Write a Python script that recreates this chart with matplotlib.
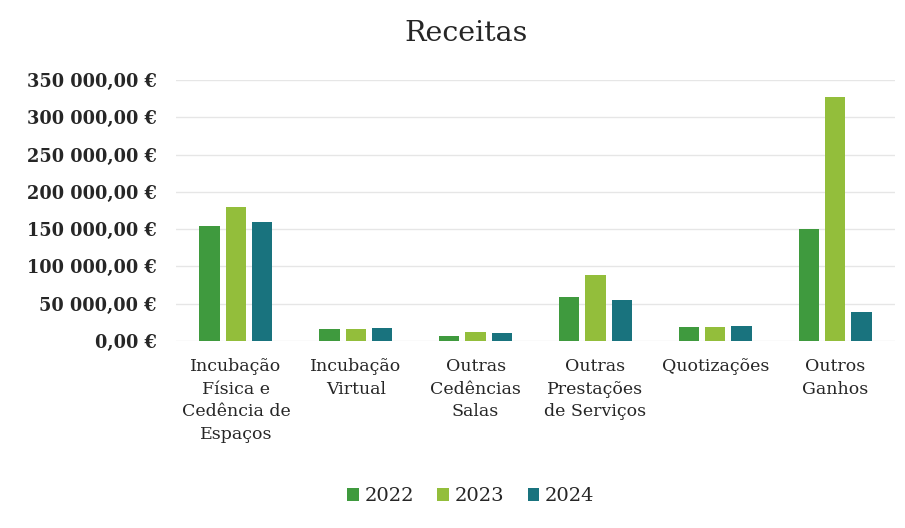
import numpy as np
import matplotlib
matplotlib.use("Agg")
import matplotlib.pyplot as plt
from matplotlib.ticker import FuncFormatter, MultipleLocator

categories = [
    "Incubação\nFísica e\nCedência de\nEspaços",
    "Incubação\nVirtual",
    "Outras\nCedências\nSalas",
    "Outras\nPrestações\nde Serviços",
    "Quotizações",
    "Outros\nGanhos",
]
years = ["2022", "2023", "2024"]
values_2022 = [154000, 16000, 6500, 59000, 19000, 150000]
values_2023 = [180000, 16000, 12000, 88000, 19000, 327000]
values_2024 = [160000, 18000, 11000, 55000, 20000, 39000]
colors = ["#3f9a3e", "#93be3b", "#19737e"]

plt.rcParams["font.family"] = ["DejaVu Serif"]
text_color = "#262626"


def euro(v, pos):
    s = f"{v:,.2f}".replace(",", " ").replace(".", ",")
    return s + " €"


fig = plt.figure(figsize=(9.05, 5.28), dpi=100)
ax = fig.add_axes([176 / 905, 1 - 341 / 528, 719 / 905, 261 / 528])

x = np.arange(len(categories))
width = 0.17
offset = 0.22
series = [values_2022, values_2023, values_2024]
for i, (vals, yr) in enumerate(zip(series, years)):
    ax.bar(x + (i - 1) * offset, vals, width, color=colors[i], label=yr, zorder=3)

ax.set_xlim(-0.5, len(categories) - 0.5)
ax.set_ylim(0, 350000)
ax.yaxis.set_major_locator(MultipleLocator(50000))
ax.yaxis.set_major_formatter(FuncFormatter(euro))
ax.grid(axis="y", color="#e6e6e6", linewidth=1, zorder=0)
for sp in ax.spines.values():
    sp.set_visible(False)
ax.tick_params(axis="both", length=0)
ax.tick_params(axis="y", pad=14, labelsize=12.8, labelcolor=text_color)
for lbl in ax.get_yticklabels():
    lbl.set_fontweight("bold")
ax.set_xticks(x)
ax.set_xticklabels(categories, fontsize=12.5, color=text_color, linespacing=1.45)
ax.tick_params(axis="x", pad=12)

fig.text(0.515, 0.937, "Receitas", ha="center", va="center", fontsize=20.5, color=text_color)

leg = ax.legend(loc="center", bbox_to_anchor=(0.41, -0.595), ncol=3, frameon=False,
                fontsize=14, handlelength=0.6, handleheight=0.6, handletextpad=0.3,
                columnspacing=1.2)
for t in leg.get_texts():
    t.set_color(text_color)

fig.savefig("out.png", dpi=100)
